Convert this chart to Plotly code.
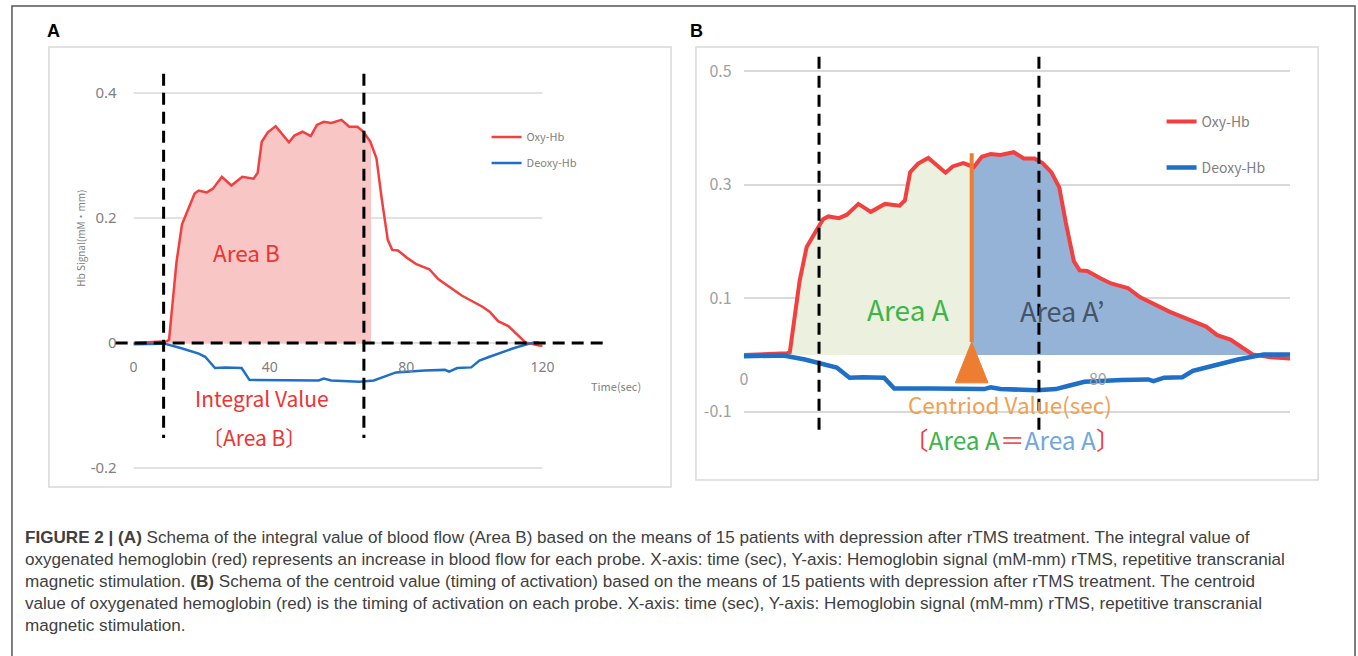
import numpy as np
import plotly.graph_objects as go

W, H = 1358, 656

# ---------------- data ----------------
oxy_time = [0, 5, 9.8, 10.4, 11.3, 12.6, 14.2, 15.8, 17.9, 19.1, 21.5, 23.3, 25.9, 28.7,
            31.9, 35.2, 36.4, 37.6, 39.4, 41.7, 45.6, 47.2, 49.6, 52.0, 53.8, 55.8, 58.0,
            61.0, 63.3, 65.7, 67.5, 69.5, 71.3, 72.8, 74.6, 75.9, 77.6, 80.6, 83.0, 86.8,
            89.5, 96.3, 102.4, 104.5, 107.0, 110.0, 112.3, 115.0, 119.0, 123.5]
oxy_signal = [0, 0.002, 0.003, 0.005, 0.06, 0.13, 0.19, 0.212, 0.239, 0.244, 0.241, 0.247,
              0.266, 0.252, 0.266, 0.263, 0.272, 0.322, 0.337, 0.347, 0.321, 0.332, 0.338,
              0.331, 0.349, 0.354, 0.352, 0.357, 0.346, 0.346, 0.338, 0.322, 0.295, 0.232,
              0.165, 0.149, 0.148, 0.135, 0.126, 0.118, 0.102, 0.076, 0.058, 0.050, 0.035,
              0.027, 0.015, 0.001, -0.004, -0.006]

deoxy_time = [0, 9, 13.8, 19.1, 21.0, 23.9, 26.9, 31.7, 34.0, 42.4, 54.3, 55.8, 58.0, 66.3,
              70.5, 73.0, 77.0, 85.4, 91.4, 92.6, 95.0, 99.1, 101.5, 104.5, 111.7, 117.5, 123.5]
deoxy_signal = [-0.002, -0.001, -0.008, -0.017, -0.022, -0.040, -0.039, -0.040, -0.059, -0.059,
                -0.060, -0.057, -0.060, -0.062, -0.060, -0.055, -0.047, -0.044, -0.043, -0.046,
                -0.040, -0.039, -0.028, -0.022, -0.008, 0.001, 0.001]

a_xticks = [0, 40, 80, 120]
a_yticks = [0.4, 0.2, 0, -0.2]
a_yticktext = ["0.4", "0.2", "0", "-0.2"]
a_markers_sec = [8.8, 67.6]
a_area_end_sec = 69.7

b_xticks = [0, 80]
b_yticks = [0.5, 0.3, 0.1, -0.1]
b_yticktext = ["0.5", "0.3", "0.1", "-0.1"]
b_markers_sec = [17.0, 66.7]
centroid_sec = 51.5

caption_lines = [
    "<b>FIGURE 2 | (A)</b> Schema of the integral value of blood flow (Area B) based on the means of 15 patients with depression after rTMS treatment. The integral value of",
    "oxygenated hemoglobin (red) represents an increase in blood flow for each probe. X-axis: time (sec), Y-axis: Hemoglobin signal (mM-mm) rTMS, repetitive transcranial",
    "magnetic stimulation. <b>(B)</b> Schema of the centroid value (timing of activation) based on the means of 15 patients with depression after rTMS treatment. The centroid",
    "value of oxygenated hemoglobin (red) is the timing of activation on each probe. X-axis: time (sec), Y-axis: Hemoglobin signal (mM-mm) rTMS, repetitive transcranial",
    "magnetic stimulation.",
]

# ---------------- styles ----------------
RED = "#f23f3f"
BLUE = "#1f6fc6"
PINK = "#f9c6c6"
GREENFILL = "#ebf1de"
BLUEFILL = "#95b3d7"
ORANGE = "#ed7d31"
GRID = "#d9d9d9"
JP = "Noto Sans CJK JP"


def px(x):
    return x / W


def py(y):
    return 1 - y / H


def segment(t, v, t0, t1, floor=None):
    t = np.asarray(t, float)
    v = np.asarray(v, float)
    inside = (t > t0) & (t < t1)
    xs = np.concatenate([[t0], t[inside], [t1]])
    ys = np.concatenate([[np.interp(t0, t, v)], v[inside], [np.interp(t1, t, v)]])
    if floor is not None:
        ys = np.maximum(ys, floor)
    return xs, ys


fig = go.Figure()

# ---- Panel A (x axis ends at 120 s) ----
a_end = a_xticks[-1]
xa, ya = segment(oxy_time, oxy_signal, 0, a_area_end_sec, floor=0)
fig.add_trace(go.Scatter(x=xa, y=ya, fill="tozeroy", fillcolor=PINK, mode="lines",
                         line=dict(width=0, color=PINK), showlegend=False, hoverinfo="skip",
                         xaxis="x", yaxis="y"))
xo, yo = segment(oxy_time, oxy_signal, 0, a_end)
fig.add_trace(go.Scatter(x=xo, y=yo, mode="lines", name="Oxy-Hb",
                         line=dict(color=RED, width=2.5), xaxis="x", yaxis="y", legend="legend"))
xd, yd = segment(deoxy_time, deoxy_signal, 0, a_end - 1)
fig.add_trace(go.Scatter(x=xd, y=yd, mode="lines", name="Deoxy-Hb",
                         line=dict(color=BLUE, width=2.5), xaxis="x", yaxis="y", legend="legend2"))

# ---- Panel B ----
xg, yg = segment(oxy_time, oxy_signal, 0, centroid_sec, floor=0)
fig.add_trace(go.Scatter(x=xg, y=yg, fill="tozeroy", fillcolor=GREENFILL, mode="lines",
                         line=dict(width=0, color=GREENFILL), showlegend=False, hoverinfo="skip",
                         xaxis="x2", yaxis="y2"))
xb, yb = segment(oxy_time, oxy_signal, centroid_sec, oxy_time[-1], floor=0)
fig.add_trace(go.Scatter(x=xb, y=yb, fill="tozeroy", fillcolor=BLUEFILL, mode="lines",
                         line=dict(width=0, color=BLUEFILL), showlegend=False, hoverinfo="skip",
                         xaxis="x2", yaxis="y2"))
fig.add_trace(go.Scatter(x=oxy_time, y=oxy_signal, mode="lines", name="Oxy-Hb",
                         line=dict(color=RED, width=4), xaxis="x2", yaxis="y2", legend="legend3"))
fig.add_trace(go.Scatter(x=deoxy_time, y=deoxy_signal, mode="lines", name="Deoxy-Hb",
                         line=dict(color=BLUE, width=4.5), xaxis="x2", yaxis="y2", legend="legend4"))

# centroid marker (line + triangle)
tip_y, top_y, base_y, half_w = 0.023, 0.355, -0.049, 3.7
fig.add_trace(go.Scatter(x=[centroid_sec, centroid_sec], y=[tip_y, top_y], mode="lines",
                         line=dict(color=ORANGE, width=4), showlegend=False, hoverinfo="skip",
                         xaxis="x2", yaxis="y2"))
fig.add_trace(go.Scatter(x=[centroid_sec - half_w, centroid_sec, centroid_sec + half_w, centroid_sec - half_w],
                         y=[base_y, tip_y, base_y, base_y], mode="lines", fill="toself",
                         fillcolor=ORANGE, line=dict(color=ORANGE, width=1), showlegend=False,
                         hoverinfo="skip", xaxis="x2", yaxis="y2"))

# ---------------- axes ----------------
# Panel A: 0 s at px 130, 120 s at px 540; 0 at py 343, 0.4 at py 93
sxa = (540 - 130) / 120
sya = (343 - 93) / 0.4
fig.update_layout(
    xaxis=dict(domain=[px(112), px(605)], range=[(112 - 130) / sxa, (605 - 130) / sxa],
               anchor="free", position=py(357), tickvals=a_xticks, showgrid=False,
               zeroline=False, showline=False, ticks="",
               tickfont=dict(family="Noto Sans", size=14, color="#808080")),
    yaxis=dict(domain=[py(480), py(55)], range=[(343 - 480) / sya, (343 - 55) / sya],
               anchor="free", position=px(113), tickvals=a_yticks, ticktext=a_yticktext,
               showgrid=False, zeroline=False, showline=False, ticks="",
               tickfont=dict(family="Noto Sans", size=15, color="#808080")),
)
# Panel B: 0 s at px 742, 80 s at px 1097; 0 at py 355, 0.5 at py 71
sxb = (1097 - 742) / 80
syb = (355 - 71) / 0.5
fig.update_layout(
    xaxis2=dict(domain=[px(742), px(1290)], range=[0, (1290 - 742) / sxb],
                anchor="free", position=py(368), tickvals=b_xticks, showgrid=False,
                zeroline=False, showline=False, ticks="",
                tickfont=dict(family=JP, size=16, color="#a0a0a0")),
    yaxis2=dict(domain=[py(470), py(48)], range=[(355 - 470) / syb, (355 - 48) / syb],
                anchor="x2", tickvals=b_yticks, ticktext=b_yticktext, showgrid=True,
                gridcolor=GRID, gridwidth=1.5, zeroline=False, showline=False,
                ticks="outside", ticklen=8, tickcolor="rgba(0,0,0,0)",
                tickfont=dict(family=JP, size=16, color="#a0a0a0")),
)

shapes = []
# frames
shapes.append(dict(type="rect", xref="paper", yref="paper", x0=px(8), x1=px(1355), y0=py(662), y1=py(6),
                   line=dict(color="#555555", width=1.5), layer="below"))
shapes.append(dict(type="rect", xref="paper", yref="paper", x0=px(45), x1=px(669), y0=py(487), y1=py(47),
                   line=dict(color=GRID, width=1.5), layer="below"))
shapes.append(dict(type="rect", xref="paper", yref="paper", x0=px(694), x1=px(1318), y0=py(480), y1=py(47),
                   line=dict(color=GRID, width=1.5), layer="below"))
# panel A gridlines (0 .. 120 s only)
for v in a_yticks:
    shapes.append(dict(type="line", xref="x", yref="y", x0=a_xticks[0], x1=a_xticks[-1], y0=v, y1=v,
                       line=dict(color=GRID, width=1.5), layer="below"))
# panel A dashed lines
DASH = "12px,7px"
shapes.append(dict(type="line", xref="x domain", yref="y", x0=0, x1=1, y0=0, y1=0,
                   line=dict(color="black", width=3, dash=DASH), layer="above"))
for t in a_markers_sec:
    shapes.append(dict(type="line", xref="x", yref="y", x0=t, x1=t, y0=0.431, y1=-0.152,
                       line=dict(color="black", width=3, dash=DASH), layer="above"))
# panel B dashed lines
for t in b_markers_sec:
    shapes.append(dict(type="line", xref="x2", yref="y2", x0=t, x1=t, y0=0.525, y1=-0.135,
                       line=dict(color="black", width=3, dash=DASH), layer="above"))

annotations = []


def ann(x, y, text, size, color, family=JP, xanchor="center", angle=0, **kw):
    annotations.append(dict(x=px(x), y=py(y), xref="paper", yref="paper", text=text,
                            showarrow=False, xanchor=xanchor, yanchor="middle", textangle=angle,
                            font=dict(family=family, size=size, color=color), **kw))


ann(41, 31, "<b>A</b>", 18, "black", family="Liberation Sans", xanchor="left")
ann(686, 31, "<b>B</b>", 18, "black", family="Liberation Sans", xanchor="left")
ann(76, 238, "Hb Signal(mM・mm)", 10, "#808080", angle=-90)
ann(614, 386, "Time(sec)", 11, "#808080")
ann(243, 252, "Area B", 22.5, "#ee3333")
ann(259, 398, "Integral Value", 21, "#ee3333")
ann(251, 437, "〔Area B〕", 21, "#ee3333")
ann(907, 309, "Area A", 28, "#3cb54a")
ann(1062, 310, "Area A’", 27, "#44546a")
ann(1009, 404, "Centriod Value(sec)", 22.5, "#f0a050")
ann(1011, 439,
    "<span style='color:#ee3b3b'>〔</span><span style='color:#3cb54a'>Area A</span>"
    "<span style='color:#ee5555'>＝</span><span style='color:#6fa8dc'>Area A</span>"
    "<span style='color:#ee3b3b'>〕</span>", 24.5, "#3cb54a")

for i, line in enumerate(caption_lines):
    ann(19, 537 + 22 * i, line, 17.1, "#404040", family="Liberation Sans", xanchor="left")

fig.update_layout(
    width=W, height=H, margin=dict(l=0, r=0, t=0, b=0),
    paper_bgcolor="white", plot_bgcolor="rgba(0,0,0,0)",
    shapes=shapes, annotations=annotations,
    legend=dict(x=px(484), y=py(137), xanchor="left", yanchor="middle", bgcolor="rgba(0,0,0,0)",
                font=dict(family=JP, size=11, color="#7f7f7f")),
    legend2=dict(x=px(484), y=py(163), xanchor="left", yanchor="middle", bgcolor="rgba(0,0,0,0)",
                 font=dict(family=JP, size=11, color="#7f7f7f")),
    legend3=dict(x=px(1161), y=py(122), xanchor="left", yanchor="middle", bgcolor="rgba(0,0,0,0)",
                 font=dict(family=JP, size=14, color="#7f7f7f")),
    legend4=dict(x=px(1161), y=py(168), xanchor="left", yanchor="middle", bgcolor="rgba(0,0,0,0)",
                 font=dict(family=JP, size=14, color="#7f7f7f")),
)

fig.write_html("out.html", config={"displayModeBar": False},
               post_script="document.body.style.margin='0';document.body.style.overflow='hidden';")
